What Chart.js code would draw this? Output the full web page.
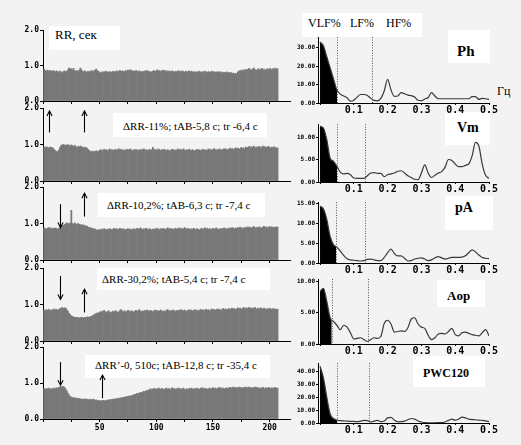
<!DOCTYPE html>
<html><head><meta charset="utf-8">
<script src="https://cdn.jsdelivr.net/npm/chart.js@4.4.1/dist/chart.umd.min.js"></script>
<style>
html,body{margin:0;padding:0;}
body{width:521px;height:445px;overflow:hidden;position:relative;background:#f3f3f3;}
.box{position:absolute;background:#fff;}
.t{position:absolute;font-family:"Liberation Serif","Times New Roman",serif;color:#000;white-space:nowrap;line-height:1;}
.b{font-weight:bold;}
</style></head><body>
<div class="box" style="left:49px;top:26px;width:71px;height:24px"></div>
<div class="t" style="left:55px;top:28px;font-size:13px">RR, сек</div>
<div class="box" style="left:113px;top:113px;width:154px;height:24px"></div>
<div class="t" style="left:123px;top:121px;font-size:11px">ΔRR-11%; tAB-5,8 с; tr -6,4 с</div>
<div class="box" style="left:98px;top:193px;width:167px;height:24px"></div>
<div class="t" style="left:107px;top:200px;font-size:11px">ΔRR-10,2%; tAB-6,3 с; tr -7,4 с</div>
<div class="box" style="left:97px;top:268px;width:173px;height:22px"></div>
<div class="t" style="left:102px;top:274px;font-size:11px">ΔRR-30,2%; tAB-5,4 с; tr -7,4 с</div>
<div class="box" style="left:85px;top:355px;width:185px;height:23px"></div>
<div class="t" style="left:95px;top:360px;font-size:11px">ΔRR’-0, 510с; tAB-12,8 с; tr -35,4 с</div>
<div class="box" style="left:302px;top:13px;width:120px;height:24px"></div>
<div class="t" style="left:308px;top:17px;font-size:12px">VLF%</div>
<div class="t" style="left:350px;top:17px;font-size:12px">LF%</div>
<div class="t" style="left:386px;top:17px;font-size:12px">HF%</div>
<div class="box" style="left:448px;top:30px;width:42px;height:33px"></div>
<div class="t b" style="left:457px;top:44px;font-size:15px">Ph</div>
<div class="t" style="left:497px;top:85px;font-size:12px">Гц</div>
<div class="box" style="left:445px;top:112px;width:45px;height:33px"></div>
<div class="t b" style="left:457px;top:121px;font-size:14px">Vm</div>
<div class="box" style="left:445px;top:196px;width:48px;height:34px"></div>
<div class="t b" style="left:455px;top:201px;font-size:14px">pA</div>
<div class="box" style="left:437px;top:280px;width:48px;height:27px"></div>
<div class="t b" style="left:447px;top:289px;font-size:13px">Aop</div>
<div class="box" style="left:413px;top:356px;width:72px;height:31px"></div>
<div class="t b" style="left:423px;top:367px;font-size:12px">PWC120</div>
<script>
// ---------- RR interval series (seconds), beat 1..207 ----------
const rrPh = [
0.90,0.86,0.85,0.87,0.84,0.86,0.85,0.83,0.86,0.84,0.82,0.85,0.83,0.80,0.84,0.82,0.79,0.83,0.85,0.82,
0.84,0.88,0.93,0.90,0.91,0.87,0.92,0.85,0.84,0.86,0.83,0.87,0.93,0.88,0.84,0.82,0.85,0.81,0.83,0.82,
0.84,0.83,0.86,0.82,0.85,0.87,0.90,0.85,0.84,0.81,0.78,0.82,0.80,0.83,0.81,0.84,0.82,0.80,0.83,0.81,
0.82,0.84,0.81,0.83,0.85,0.82,0.84,0.86,0.83,0.85,0.84,0.82,0.86,0.84,0.87,0.85,0.88,0.86,0.84,0.85,
0.83,0.86,0.84,0.82,0.85,0.83,0.81,0.84,0.82,0.85,0.83,0.86,0.84,0.82,0.83,0.81,0.84,0.86,0.83,0.85,
0.88,0.84,0.86,0.83,0.85,0.87,0.84,0.86,0.82,0.85,0.83,0.84,0.82,0.85,0.83,0.81,0.84,0.82,0.85,0.83,
0.84,0.82,0.85,0.83,0.81,0.84,0.82,0.83,0.85,0.82,0.84,0.81,0.83,0.82,0.80,0.83,0.81,0.84,0.82,0.80,
0.83,0.81,0.84,0.82,0.80,0.83,0.81,0.82,0.84,0.81,0.83,0.80,0.82,0.81,0.83,0.80,0.82,0.79,0.81,0.80,
0.80,0.82,0.79,0.81,0.78,0.80,0.77,0.79,0.76,0.78,0.77,0.82,0.85,0.84,0.87,0.85,0.88,0.86,0.89,0.87,
0.89,0.92,0.88,0.87,0.90,0.93,0.89,0.86,0.88,0.91,0.87,0.89,0.92,0.88,0.90,0.86,0.89,0.91,0.87,0.92,0.90,0.88,0.91,0.89,0.93,0.90,0.91];
const rrVm = [
0.93,0.91,0.94,0.92,0.90,0.93,0.91,0.92,0.89,0.86,0.83,0.81,0.80,0.85,0.92,0.97,0.99,1.00,0.98,0.99,
0.97,1.00,0.98,0.96,0.99,0.97,0.95,0.98,0.94,0.92,0.95,0.93,0.96,0.94,0.91,0.93,0.90,0.92,0.89,0.86,
0.83,0.81,0.80,0.82,0.79,0.81,0.83,0.80,0.82,0.84,0.86,0.83,0.85,0.87,0.84,0.86,0.83,0.85,0.88,0.84,
0.86,0.83,0.85,0.87,0.84,0.86,0.88,0.85,0.87,0.84,0.86,0.83,0.85,0.87,0.84,0.86,0.88,0.85,0.83,0.86,
0.84,0.87,0.85,0.83,0.86,0.84,0.87,0.85,0.88,0.84,0.86,0.83,0.85,0.87,0.84,0.86,0.92,0.85,0.87,0.84,
0.86,0.88,0.85,0.83,0.86,0.84,0.87,0.85,0.83,0.86,0.84,0.82,0.85,0.87,0.84,0.86,0.83,0.85,0.88,0.85,
0.87,0.84,0.86,0.88,0.85,0.83,0.86,0.84,0.87,0.85,0.83,0.86,0.84,0.82,0.85,0.87,0.84,0.86,0.83,0.85,
0.87,0.84,0.86,0.83,0.85,0.88,0.85,0.87,0.84,0.86,0.89,0.86,0.84,0.87,0.85,0.88,0.86,0.84,0.87,0.89,
0.86,0.88,0.85,0.87,0.90,0.87,0.89,0.86,0.88,0.91,0.88,0.90,0.87,0.89,0.92,0.89,0.91,0.88,0.93,0.90,
0.92,0.95,0.91,0.94,0.92,0.96,0.93,0.90,0.94,0.92,0.95,0.91,0.93,0.96,0.92,0.94,0.91,0.93,0.95,0.92,0.90,0.93,0.91,0.94,0.92,0.90,0.91];
const rrPA = [
0.88,0.86,0.85,0.87,0.89,0.86,0.88,0.85,0.87,0.86,0.88,0.86,0.84,0.87,0.89,0.91,0.93,0.95,0.97,0.99,
1.02,1.00,0.99,1.01,1.36,1.00,0.98,1.02,0.99,0.97,1.00,0.98,0.96,0.97,0.95,0.96,0.94,0.92,0.93,0.90,
0.88,0.89,0.86,0.87,0.84,0.85,0.82,0.83,0.81,0.84,0.82,0.85,0.83,0.86,0.84,0.82,0.85,0.83,0.86,0.84,
0.82,0.85,0.87,0.84,0.86,0.83,0.85,0.87,0.84,0.86,0.83,0.85,0.82,0.84,0.86,0.83,0.85,0.82,0.84,0.86,
0.83,0.85,0.87,0.84,0.86,0.88,0.85,0.83,0.86,0.84,0.87,0.85,0.83,0.86,0.84,0.82,0.85,0.83,0.86,0.84,
0.87,0.85,0.83,0.86,0.84,0.87,0.85,0.83,0.86,0.88,0.85,0.87,0.84,0.86,0.83,0.85,0.87,0.84,0.86,0.88,
0.85,0.87,0.84,0.86,0.89,0.86,0.84,0.87,0.85,0.83,0.86,0.84,0.87,0.85,0.83,0.86,0.84,0.82,0.85,0.87,
0.84,0.86,0.88,0.85,0.87,0.84,0.86,0.83,0.85,0.87,0.84,0.86,0.88,0.85,0.83,0.86,0.84,0.87,0.85,0.88,
0.86,0.84,0.87,0.85,0.88,0.86,0.89,0.87,0.85,0.88,0.86,0.89,0.87,0.90,0.88,0.86,0.89,0.87,0.90,0.88,
0.91,0.88,0.90,0.87,0.89,0.92,0.89,0.87,0.90,0.88,0.91,0.89,0.87,0.90,0.92,0.89,0.91,0.88,0.90,0.92,0.89,0.91,0.88,0.90,0.89,0.91,0.90];
const rrAop = [
0.85,0.83,0.86,0.84,0.87,0.85,0.83,0.86,0.84,0.88,0.85,0.87,0.84,0.86,0.89,0.90,0.92,0.89,0.91,0.90,
0.86,0.81,0.76,0.72,0.69,0.67,0.66,0.65,0.64,0.65,0.64,0.63,0.64,0.65,0.64,0.63,0.65,0.64,0.66,0.65,
0.66,0.67,0.68,0.70,0.72,0.74,0.75,0.77,0.76,0.79,0.81,0.78,0.82,0.84,0.80,0.78,0.81,0.83,0.79,0.77,
0.80,0.82,0.79,0.83,0.81,0.78,0.80,0.84,0.86,0.82,0.80,0.83,0.79,0.81,0.84,0.82,0.80,0.83,0.81,0.79,
0.82,0.84,0.81,0.83,0.86,0.82,0.80,0.83,0.81,0.84,0.82,0.85,0.83,0.81,0.84,0.82,0.80,0.83,0.85,0.82,
0.84,0.81,0.83,0.85,0.82,0.80,0.83,0.81,0.84,0.86,0.83,0.81,0.84,0.82,0.85,0.83,0.81,0.84,0.82,0.85,
0.83,0.86,0.84,0.82,0.85,0.83,0.81,0.84,0.86,0.83,0.85,0.82,0.84,0.86,0.83,0.85,0.82,0.84,0.87,0.84,
0.86,0.83,0.85,0.87,0.84,0.86,0.83,0.85,0.88,0.85,0.87,0.84,0.86,0.88,0.85,0.87,0.84,0.86,0.89,0.86,
0.88,0.85,0.87,0.89,0.86,0.88,0.90,0.87,0.89,0.86,0.88,0.91,0.88,0.90,0.87,0.89,0.92,0.89,0.91,0.88,
0.90,0.92,0.89,0.91,0.88,0.90,0.92,0.89,0.87,0.90,0.88,0.91,0.89,0.87,0.90,0.88,0.86,0.89,0.87,0.90,0.88,0.86,0.89,0.87,0.88,0.86,0.87];
const rrPWC = [
0.84,0.82,0.85,0.83,0.86,0.84,0.82,0.85,0.83,0.86,0.84,0.87,0.85,0.88,0.90,0.89,0.91,0.90,0.88,0.84,
0.78,0.72,0.67,0.63,0.61,0.60,0.58,0.59,0.57,0.58,0.56,0.57,0.55,0.56,0.54,0.55,0.56,0.54,0.55,0.53,
0.55,0.54,0.53,0.55,0.54,0.52,0.53,0.51,0.52,0.50,0.51,0.50,0.52,0.51,0.50,0.52,0.53,0.52,0.54,0.53,
0.55,0.54,0.56,0.55,0.57,0.56,0.58,0.57,0.59,0.60,0.59,0.61,0.62,0.61,0.63,0.64,0.63,0.65,0.66,0.67,
0.68,0.69,0.71,0.70,0.72,0.74,0.73,0.75,0.77,0.76,0.78,0.80,0.79,0.82,0.84,0.81,0.83,0.85,0.82,0.84,
0.83,0.86,0.84,0.82,0.85,0.83,0.81,0.84,0.86,0.83,0.85,0.82,0.84,0.87,0.83,0.85,0.82,0.84,0.86,0.83,
0.85,0.82,0.84,0.86,0.83,0.81,0.84,0.82,0.85,0.83,0.86,0.84,0.82,0.85,0.83,0.86,0.84,0.82,0.85,0.87,
0.84,0.86,0.83,0.85,0.82,0.84,0.86,0.83,0.85,0.87,0.84,0.86,0.83,0.85,0.88,0.85,0.87,0.84,0.86,0.83,
0.85,0.87,0.84,0.86,0.88,0.85,0.87,0.89,0.86,0.88,0.85,0.87,0.89,0.86,0.88,0.85,0.87,0.89,0.86,0.88,
0.87,0.89,0.86,0.88,0.85,0.87,0.89,0.86,0.88,0.86,0.84,0.87,0.85,0.88,0.86,0.84,0.87,0.85,0.88,0.86,0.84,0.87,0.85,0.86,0.88,0.85,0.86];

const rrYTicks = [0, 1, 2];
const beatTicks = [0, 25, 50, 75, 100, 125, 150, 175, 200];

// arrows (beat number, RR value at tail, RR value at head)
const arrowsPh  = [];
const arrowsVm  = [{x:5.3,from:1.33,to:1.92},{x:36.2,from:1.33,to:1.92}];
const arrowsPA  = [{x:15,from:1.53,to:0.89},{x:36.2,from:1.19,to:1.83}];
const arrowsAop = [{x:15,from:1.78,to:1.14},{x:36.2,from:0.78,to:1.42}];
const arrowsPWC = [{x:15,from:1.58,to:0.94},{x:52,from:0.58,to:1.22}];

// ---------- spectra (frequency, Hz) ----------
const freq = [0,0.01,0.02,0.03,0.04,0.05,0.06,0.07,0.08,0.09,0.10,0.11,0.12,0.13,0.14,0.15,0.16,0.17,0.18,0.19,
0.20,0.21,0.22,0.23,0.24,0.25,0.26,0.27,0.28,0.29,0.30,0.31,0.32,0.33,0.34,0.35,0.36,0.37,0.38,0.39,
0.40,0.41,0.42,0.43,0.44,0.45,0.46,0.47,0.48,0.49,0.50];
const spPh  = [33,31,25,19,13,7,4.8,3.8,2.8,1.0,1.5,3.2,4.6,4.6,4.1,2.5,1.4,1.2,2.5,6.5,
12.8,7.0,3.6,3.8,5.6,5.0,4.3,4.0,3.2,1.5,1.3,2.2,3.0,5.6,3.8,2.3,2.3,2.3,2.3,2.3,
2.3,2.3,2.3,2.3,2.3,3.5,3.4,2.0,2.5,2.3,2.0];
const spVm  = [12.4,12.0,9.4,5.3,4.6,3.5,2.2,1.8,1.9,1.6,0.9,0.8,0.8,0.8,1.4,2.0,2.1,1.9,1.9,1.2,
1.6,1.8,2.0,2.4,2.5,2.0,1.4,1.0,0.6,0.5,2.0,3.8,2.0,1.0,1.5,2.0,2.3,3.3,5.0,4.8,
4.0,3.4,3.4,3.7,4.0,5.8,8.8,8.0,4.0,1.5,0.8];
const spPA  = [14.3,13.7,11.0,6.7,4.6,4.0,3.0,1.9,1.1,0.8,0.7,0.6,0.5,0.6,0.9,1.0,0.8,0.6,0.6,1.4,
2.6,3.5,2.4,1.8,1.8,1.2,0.5,0.6,1.0,1.2,1.3,1.0,0.6,0.8,1.3,1.6,1.3,1.0,1.2,1.4,
1.4,1.4,1.5,1.8,2.6,3.3,2.8,2.0,1.4,1.2,1.1];
const spAop = [8.4,8.9,6.8,4.2,3.6,3.0,2.3,3.0,2.7,1.8,0.8,0.9,1.0,0.7,0.4,0.7,1.0,0.9,1.2,3.3,
3.8,3.2,1.9,2.0,2.1,2.0,2.6,4.0,4.2,3.2,2.7,2.5,1.4,0.7,1.0,1.6,1.7,1.6,2.0,2.5,
1.5,1.3,1.8,1.9,1.7,1.5,1.4,1.3,1.8,2.3,1.3];
const spPWC = [44,35,20,7,3.5,2.2,1.8,1.6,1.4,1.3,1.2,1.0,1.5,2.0,1.8,0.8,1.5,2.0,1.0,1.5,
4.0,4.3,2.2,0.9,1.0,1.5,2.5,3.5,3.0,1.5,0.8,0.3,0.2,0.2,0.2,0.3,0.3,0.8,2.0,3.0,
2.2,3.0,4.5,4.0,3.0,2.6,2.5,2.2,2.0,1.6,1.0];

const vlfEnd = [0.050, 0.050, 0.047, 0.034, 0.050];
const lfEnd  = [0.154, 0.133, 0.133, 0.143, 0.145];
const spYMax = [35.7, 12.9, 15.4, 10.4, 46.5];
const spYTicks = [[0,10,20,30],[0,5,10],[0,5,10,15],[0,5,10],[0,10,20,30,40]];
const freqTicks = [0, 0.1, 0.2, 0.3, 0.4, 0.5];

// ---------- layout ----------
const LT = [30,108,187,268,347], LB = [101,181,260,341,419];
const RT = [37,124,202,279,363], RB = [103,182,263,344,423];

function makeCanvas(left, top, w, h){
  const c = document.createElement('canvas');
  c.width = w; c.height = h;
  c.style.cssText = 'position:absolute;left:'+left+'px;top:'+top+'px;width:'+w+'px;height:'+h+'px;';
  document.body.appendChild(c);
  return c;
}

const monoBold = (s)=>({family:'DejaVu Sans Mono', size:s, weight:'bold'});

function arrowPlugin(list){
  return {
    id:'arrows',
    afterDatasetsDraw(chart){
      const ctx = chart.ctx, x = chart.scales.x, y = chart.scales.y;
      ctx.save(); ctx.strokeStyle = '#000'; ctx.lineWidth = 1.1;
      list.forEach(a=>{
        const px = Math.round(x.getPixelForValue(a.x)) + 0.5;
        const y0 = y.getPixelForValue(a.from), y1 = y.getPixelForValue(a.to);
        const d = y1 < y0 ? 1 : -1;
        ctx.beginPath(); ctx.moveTo(px, y0); ctx.lineTo(px, y1); ctx.stroke();
        ctx.beginPath(); ctx.moveTo(px-2.6, y1 + d*5); ctx.lineTo(px, y1); ctx.lineTo(px+2.6, y1 + d*5); ctx.stroke();
      });
      ctx.restore();
    }
  };
}

function leftChart(i, values, arrows){
  const last = i === 4;
  const xh = last ? 16 : 6;
  const h = LB[i] - LT[i] + 8 + xh;
  const cv = makeCanvas(0, LT[i] - 8, 292, h);
  new Chart(cv, {
    type:'bar',
    data:{datasets:[{
      data: values.map((v,k)=>({x:k+1, y:v})),
      backgroundColor:'#787878', borderWidth:0,
      barPercentage:1, categoryPercentage:1, grouped:false
    }]},
    options:{
      responsive:false, animation:false, events:[],
      layout:{padding:{top:8, right:2, left:0, bottom:0}},
      plugins:{legend:{display:false}, tooltip:{enabled:false}},
      scales:{
        x:{type:'linear', min:0, max:218, offset:false,
          grid:{display:true, drawOnChartArea:false, drawTicks:true, tickLength:3, color:'#000', offset:false},
          border:{display:true, color:'#000', width:1},
          afterBuildTicks:(s)=>{ s.ticks = beatTicks.map(v=>({value:v})); },
          ticks:{autoSkip:false, maxRotation:0, padding:1, color:'#000', font:monoBold(8),
            callback:(v)=> (last && v>0 && v%50===0) ? String(v) : ''},
          afterFit:(s)=>{ s.height = xh; s.paddingLeft = 0; s.paddingRight = 0; }
        },
        y:{min:0, max:2,
          grid:{display:true, drawOnChartArea:false, drawTicks:true, tickLength:3, color:'#000'},
          border:{display:true, color:'#000', width:1},
          afterBuildTicks:(s)=>{ s.ticks = rrYTicks.map(v=>({value:v})); },
          ticks:{padding:1, color:'#000', font:monoBold(8), callback:(v)=>Number(v).toFixed(1)},
          afterFit:(s)=>{ s.width = 43; }
        }
      }
    },
    plugins:[arrowPlugin(arrows)]
  });
}

// VLF band: black fill under the spectrum's own line path, clipped at the VLF/LF boundary
function specPlugin(i){
  return {
    id:'spec',
    beforeDatasetsDraw(chart){
      const ctx = chart.ctx, a = chart.chartArea, x = chart.scales.x, y = chart.scales.y;
      const line = chart.getDatasetMeta(0).dataset;
      const pts = chart.getDatasetMeta(0).data;
      if (!line || !pts.length) return;
      const base = y.getPixelForValue(0);
      ctx.save();
      ctx.beginPath();
      ctx.rect(a.left, a.top - 10, x.getPixelForValue(vlfEnd[i]) - a.left, a.bottom - a.top + 10);
      ctx.clip();
      ctx.beginPath();
      line.path(ctx);
      ctx.lineTo(pts[pts.length-1].x, base);
      ctx.lineTo(pts[0].x, base);
      ctx.closePath();
      ctx.fillStyle = '#000';
      ctx.fill();
      ctx.restore();
    },
    afterDatasetsDraw(chart){
      const ctx = chart.ctx, a = chart.chartArea, x = chart.scales.x;
      ctx.save(); ctx.strokeStyle = '#555'; ctx.lineWidth = 1; ctx.setLineDash([1,1.6]);
      [vlfEnd[i], lfEnd[i]].forEach(f=>{
        const px = Math.round(x.getPixelForValue(f)) + 0.5;
        ctx.beginPath(); ctx.moveTo(px, a.top); ctx.lineTo(px, a.bottom); ctx.stroke();
      });
      ctx.restore();
    }
  };
}

function rightChart(i, values){
  const h = RB[i] - RT[i] + 6 + 16;
  const cv = makeCanvas(285, RT[i] - 6, 236, h);
  const pts = values.map((v,k)=>({x:freq[k], y:v}));
  new Chart(cv, {
    type:'line',
    data:{datasets:[
      {label:'spectrum', data:pts, fill:false, borderColor:'#3a3a3a', borderWidth:1.2,
       pointRadius:0, cubicInterpolationMode:'monotone'}
    ]},
    options:{
      responsive:false, animation:false, events:[],
      layout:{padding:{top:6, right:32, left:0, bottom:0}},
      plugins:{legend:{display:false}, tooltip:{enabled:false}},
      scales:{
        x:{type:'linear', min:-0.006, max:0.5,
          grid:{display:true, drawOnChartArea:false, drawTicks:true, tickLength:2, color:'#000'},
          border:{display:true, color:'#000', width:1},
          afterBuildTicks:(s)=>{ s.ticks = freqTicks.map(v=>({value:v})); },
          ticks:{autoSkip:false, maxRotation:0, padding:-1, color:'#000', font:monoBold(10),
            callback:(v)=> v===0 ? '' : Number(v).toFixed(1)},
          afterFit:(s)=>{ s.height = 16; s.paddingLeft = 0; s.paddingRight = 0; }
        },
        y:{min:0, max:spYMax[i],
          grid:{display:true, drawOnChartArea:false, drawTicks:true, tickLength:2, color:'#000'},
          border:{display:true, color:'#000', width:1},
          afterBuildTicks:(s)=>{ s.ticks = spYTicks[i].map(v=>({value:v})); },
          ticks:{padding:1, color:'#000', font:monoBold(6), callback:(v)=>Number(v).toFixed(2)},
          afterFit:(s)=>{ s.width = 33; }
        }
      }
    },
    plugins:[specPlugin(i)]
  });
}

[rrPh, rrVm, rrPA, rrAop, rrPWC].forEach((s,i)=>leftChart(i, s, [arrowsPh, arrowsVm, arrowsPA, arrowsAop, arrowsPWC][i]));
[spPh, spVm, spPA, spAop, spPWC].forEach((s,i)=>rightChart(i, s));
</script></body></html>
